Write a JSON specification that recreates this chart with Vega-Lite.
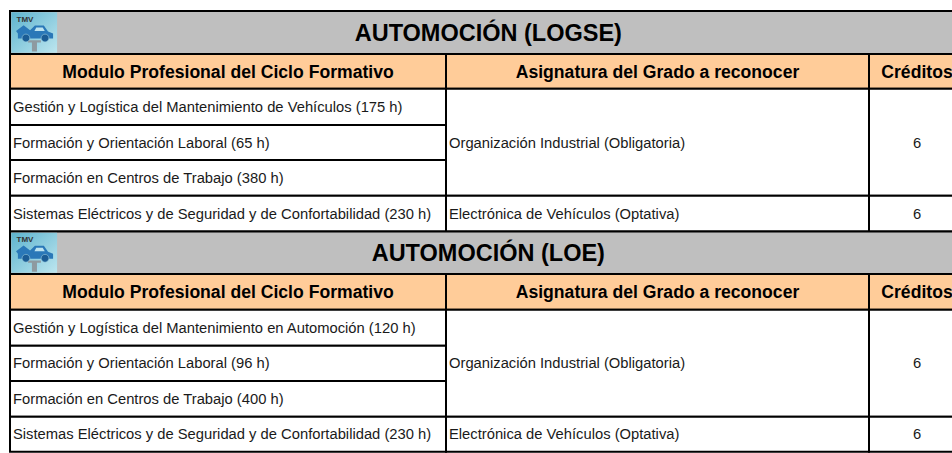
{
"$schema":"https://vega.github.io/schema/vega-lite/v6.json",
"width":952,"height":453,"padding":0,"autosize":{"type":"none"},
"background":"white",
"config":{"view":{"stroke":null},"text":{"font":"Liberation Sans"}},
"datasets":{
"celdas":[
{"tipo":"titulo","texto":"AUTOMOCIÓN (LOGSE)","col":0,"colFin":3,"fila":0,"filaFin":1,"colCentro":1.1,"filaCentro":0.5},
{"tipo":"cabecera","texto":"Modulo Profesional del Ciclo Formativo","col":0,"colFin":1,"fila":1,"filaFin":2,"colCentro":0.5,"filaCentro":1.5},
{"tipo":"cabecera","texto":"Asignatura del Grado a reconocer","col":1,"colFin":2,"fila":1,"filaFin":2,"colCentro":1.5,"filaCentro":1.5},
{"tipo":"cabecera","texto":"Créditos","col":2,"colFin":3,"fila":1,"filaFin":2,"colCentro":2.5,"filaCentro":1.5},
{"tipo":"texto","texto":"Gestión y Logística del Mantenimiento de Vehículos (175 h)","col":0,"colFin":1,"fila":2,"filaFin":3,"colCentro":0,"filaCentro":2.5},
{"tipo":"texto","texto":"Formación y Orientación Laboral (65 h)","col":0,"colFin":1,"fila":3,"filaFin":4,"colCentro":0,"filaCentro":3.5},
{"tipo":"texto","texto":"Formación en Centros de Trabajo (380 h)","col":0,"colFin":1,"fila":4,"filaFin":5,"colCentro":0,"filaCentro":4.5},
{"tipo":"texto","texto":"Sistemas Eléctricos y de Seguridad y de Confortabilidad (230 h)","col":0,"colFin":1,"fila":5,"filaFin":6,"colCentro":0,"filaCentro":5.5},
{"tipo":"texto","texto":"Organización Industrial (Obligatoria)","col":1,"colFin":2,"fila":2,"filaFin":5,"colCentro":1,"filaCentro":3.5},
{"tipo":"texto","texto":"Electrónica de Vehículos (Optativa)","col":1,"colFin":2,"fila":5,"filaFin":6,"colCentro":1,"filaCentro":5.5},
{"tipo":"numero","texto":"6","col":2,"colFin":3,"fila":2,"filaFin":5,"colCentro":2.5,"filaCentro":3.5},
{"tipo":"numero","texto":"6","col":2,"colFin":3,"fila":5,"filaFin":6,"colCentro":2.5,"filaCentro":5.5},
{"tipo":"titulo","texto":"AUTOMOCIÓN (LOE)","col":0,"colFin":3,"fila":6,"filaFin":7,"colCentro":1.1,"filaCentro":6.5},
{"tipo":"cabecera","texto":"Modulo Profesional del Ciclo Formativo","col":0,"colFin":1,"fila":7,"filaFin":8,"colCentro":0.5,"filaCentro":7.5},
{"tipo":"cabecera","texto":"Asignatura del Grado a reconocer","col":1,"colFin":2,"fila":7,"filaFin":8,"colCentro":1.5,"filaCentro":7.5},
{"tipo":"cabecera","texto":"Créditos","col":2,"colFin":3,"fila":7,"filaFin":8,"colCentro":2.5,"filaCentro":7.5},
{"tipo":"texto","texto":"Gestión y Logística del Mantenimiento en Automoción (120 h)","col":0,"colFin":1,"fila":8,"filaFin":9,"colCentro":0,"filaCentro":8.5},
{"tipo":"texto","texto":"Formación y Orientación Laboral (96 h)","col":0,"colFin":1,"fila":9,"filaFin":10,"colCentro":0,"filaCentro":9.5},
{"tipo":"texto","texto":"Formación en Centros de Trabajo (400 h)","col":0,"colFin":1,"fila":10,"filaFin":11,"colCentro":0,"filaCentro":10.5},
{"tipo":"texto","texto":"Sistemas Eléctricos y de Seguridad y de Confortabilidad (230 h)","col":0,"colFin":1,"fila":11,"filaFin":12,"colCentro":0,"filaCentro":11.5},
{"tipo":"texto","texto":"Organización Industrial (Obligatoria)","col":1,"colFin":2,"fila":8,"filaFin":11,"colCentro":1,"filaCentro":9.5},
{"tipo":"texto","texto":"Electrónica de Vehículos (Optativa)","col":1,"colFin":2,"fila":11,"filaFin":12,"colCentro":1,"filaCentro":11.5},
{"tipo":"numero","texto":"6","col":2,"colFin":3,"fila":8,"filaFin":11,"colCentro":2.5,"filaCentro":9.5},
{"tipo":"numero","texto":"6","col":2,"colFin":3,"fila":11,"filaFin":12,"colCentro":2.5,"filaCentro":11.5}
],
"iconos":[
{"etiqueta":"TMV","col":0.003,"colFin":0.108,"fila":0.03,"filaFin":0.97,"colCentro":0.055,"filaCentro":0.5},
{"etiqueta":"TMV","col":0.003,"colFin":0.108,"fila":6.03,"filaFin":6.97,"colCentro":0.055,"filaCentro":6.5}
]
},
"data":{"name":"celdas"},
"encoding":{
"x":{"field":"colCentro","type":"quantitative","axis":null,"scale":{"domain":[0,1,2,3],"range":[10,446,869,965],"zero":false,"nice":false}},
"y":{"field":"filaCentro","type":"quantitative","axis":null,"scale":{"domain":[0,1,2,3,4,5,6,7,8,9,10,11,12],"range":[11,54,88.7,125,160,195.7,231.5,274,309.7,345.7,381,416.7,451.7],"zero":false,"nice":false}}
},
"layer":[
{"mark":{"type":"rect","stroke":"#000000","strokeWidth":2,"clip":true},
 "encoding":{
 "x":{"field":"col","type":"quantitative","axis":null},
 "x2":{"field":"colFin"},
 "y":{"field":"fila","type":"quantitative","axis":null},
 "y2":{"field":"filaFin"},
 "fill":{"field":"tipo","type":"nominal","legend":null,"scale":{"domain":["titulo","cabecera","texto","numero"],"range":["#BFBFBF","#FFCC99","#FFFFFF","#FFFFFF"]}}}},
{"data":{"name":"iconos"},"mark":{"type":"rect","clip":true,"fill":{"gradient":"linear","x1":0,"y1":0,"x2":1,"y2":1,"stops":[{"offset":0,"color":"#5DB3CE"},{"offset":1,"color":"#BDE6EF"}]}},
 "encoding":{"x":{"field":"col","type":"quantitative","axis":null},"x2":{"field":"colFin"},"y":{"field":"fila","type":"quantitative","axis":null},"y2":{"field":"filaFin"}}},
{"data":{"name":"iconos"},"mark":{"type":"point","filled":true,"opacity":1,"fill":"#8E9AA0","size":2116,"shape":"M-0.26 0.34 L0.3 0.34 L0.3 0.44 L0.13 0.44 L0.13 0.83 L-0.09 0.83 L-0.09 0.44 L-0.26 0.44 Z"}},
{"data":{"name":"iconos"},"mark":{"type":"point","filled":true,"opacity":1,"fill":"#2A78B8","size":2116,"shape":"M-0.7 0.04 L-0.78 -0.06 L-0.45 -0.32 L-0.17 -0.1 L0.04 -0.3 L0.43 -0.3 L0.61 -0.04 L0.83 0.04 L0.83 0.26 L-0.7 0.26 Z"}},
{"data":{"name":"iconos"},"mark":{"type":"point","filled":true,"opacity":1,"fill":"#1B5C94","stroke":"#9CCFE0","strokeWidth":0.6,"size":2116,"shape":"M-0.52 0.24 A0.17 0.17 0 1 0 -0.18 0.24 A0.17 0.17 0 1 0 -0.52 0.24 Z M0.31 0.24 A0.17 0.17 0 1 0 0.65 0.24 A0.17 0.17 0 1 0 0.31 0.24 Z"}},
{"data":{"name":"iconos"},"mark":{"type":"point","filled":true,"opacity":1,"fill":"#BDE3F0","size":2116,"shape":"M0.1 -0.22 L0.38 -0.22 L0.47 -0.06 L0.02 -0.06 Z"}},
{"data":{"name":"iconos"},"mark":{"type":"text","align":"center","baseline":"middle","fontSize":8,"fontWeight":"bold","color":"#333333","dx":-9,"dy":-13},"encoding":{"text":{"field":"etiqueta"}}},
{"transform":[{"filter":"datum.tipo==='titulo'"}],"mark":{"type":"text","align":"center","baseline":"middle","fontSize":23.5,"fontWeight":"bold","color":"#000000","dy":1},"encoding":{"text":{"field":"texto"}}},
{"transform":[{"filter":"datum.tipo==='cabecera'"}],"mark":{"type":"text","align":"center","baseline":"middle","fontSize":17.6,"fontWeight":"bold","color":"#000000","dy":1.5},"encoding":{"text":{"field":"texto"}}},
{"transform":[{"filter":"datum.tipo==='texto'"}],"mark":{"type":"text","align":"left","baseline":"middle","fontSize":14.75,"color":"#1A1A1A","dx":3,"dy":1},"encoding":{"text":{"field":"texto"}}},
{"transform":[{"filter":"datum.tipo==='numero'"}],"mark":{"type":"text","align":"center","baseline":"middle","fontSize":14.75,"color":"#1A1A1A","dy":1},"encoding":{"text":{"field":"texto"}}}
]
}
